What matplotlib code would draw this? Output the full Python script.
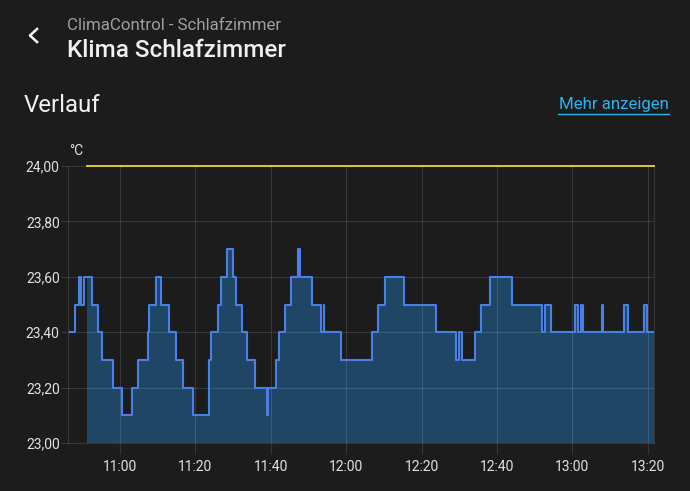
import pandas as pd
import matplotlib.pyplot as plt
import matplotlib.dates as mdates
from matplotlib.lines import Line2D

# Temperature readings (step data)
times = ["10:46:44", "10:48:04", "10:49:08", "10:49:40", "10:50:32", "10:52:30",
         "10:54:15", "10:55:19", "10:58:04", "11:00:37", "11:03:16", "11:04:51",
         "11:07:21", "11:07:46", "11:09:28", "11:10:52", "11:12:59", "11:14:51",
         "11:16:43", "11:19:17", "11:23:31", "11:24:08", "11:25:55", "11:26:52",
         "11:28:27", "11:30:03", "11:30:41", "11:32:16", "11:33:45", "11:35:48",
         "11:39:04", "11:39:15", "11:41:22", "11:42:15", "11:43:45", "11:45:16",
         "11:47:20", "11:47:44", "11:50:50", "11:53:13", "11:54:01", "11:54:14",
         "11:58:32", "12:06:45", "12:08:30", "12:10:16", "12:15:19", "12:23:43",
         "12:29:06", "12:29:49", "12:30:37", "12:34:08", "12:35:44", "12:38:07",
         "12:43:52", "12:51:59", "12:52:42", "12:54:13", "13:00:40", "13:01:32",
         "13:02:15", "13:02:55", "13:07:49", "13:08:05", "13:13:44", "13:14:47",
         "13:18:58", "13:19:50", "13:21:37"]
temps = [23.4, 23.5, 23.6, 23.5, 23.6, 23.5,
         23.4, 23.3, 23.2, 23.1, 23.2, 23.3,
         23.4, 23.5, 23.6, 23.5, 23.4, 23.3,
         23.2, 23.1, 23.3, 23.4, 23.5, 23.6,
         23.7, 23.6, 23.5, 23.4, 23.3, 23.2,
         23.1, 23.2, 23.3, 23.4, 23.5, 23.6,
         23.7, 23.6, 23.5, 23.4, 23.5, 23.4,
         23.3, 23.4, 23.5, 23.6, 23.5, 23.4,
         23.3, 23.4, 23.3, 23.4, 23.5, 23.6,
         23.5, 23.4, 23.5, 23.4, 23.5, 23.4,
         23.5, 23.4, 23.5, 23.4, 23.5, 23.4,
         23.5, 23.4, 23.4]

setpoint = 24.0
fill_start = "10:51:10"
x_start, x_end = "10:46:13", "13:21:37"
y_ticks = [23.0, 23.2, 23.4, 23.6, 23.8, 24.0]

day = "2024-01-01 "
t = pd.to_datetime([day + s for s in times])
s = pd.Series(temps, index=t)

# area only starts a bit after the line
fs = pd.Timestamp(day + fill_start)
fill = pd.concat([pd.Series([s.asof(fs)], index=[fs]), s[s.index > fs]])

BG = "#1c1c1c"
GRID = "#ffffff"
LINE = "#4a7fe6"
AREA = "#1f4665"
TXT = "#e1e1e1"

plt.rcParams['font.family'] = ['Roboto', 'DejaVu Sans']

fig = plt.figure(figsize=(6.9, 4.91), dpi=100, facecolor=BG)
W, H = 690, 491
ax = fig.add_axes([68 / W, (H - 443) / H, 586 / W, 277 / H])
ax.set_facecolor(BG)

ax.fill_between(fill.index, fill.values, 23.0, step='post', color=AREA, lw=0, zorder=1)
ax.plot(s.index, s.values, drawstyle='steps-post', color=LINE, lw=1.5, zorder=3)
ax.plot([fs, s.index[-1]], [setpoint, setpoint], color="#e8d82c", lw=1.3,
        zorder=4, clip_on=False)

ax.set_xlim(pd.Timestamp(day + x_start), pd.Timestamp(day + x_end))
ax.set_ylim(23.0, 24.0)
ax.set_yticks(y_ticks)
ax.yaxis.set_major_formatter(plt.FuncFormatter(lambda v, p: f"{v:.2f}".replace(".", ",")))
ax.xaxis.set_major_locator(mdates.MinuteLocator(byminute=[0, 20, 40]))
ax.xaxis.set_major_formatter(mdates.DateFormatter('%H:%M'))

ax.grid(True, color=GRID, alpha=0.12, lw=0.8, zorder=2)
ax.tick_params(axis='x', colors=(1, 1, 1, 0.12), length=8, width=0.8, pad=4,
               labelcolor=TXT, labelsize=10)
ax.tick_params(axis='y', colors=(1, 1, 1, 0.12), length=5, width=0.8, pad=1,
               labelcolor=TXT, labelsize=10)
for side in ['left', 'bottom', 'right']:
    ax.spines[side].set_color((1, 1, 1, 0.12))
    ax.spines[side].set_linewidth(0.8)
ax.spines['top'].set_visible(False)

# header
fig.add_artist(Line2D([37 / W, 30 / W, 37 / W], [1 - 29 / H, 1 - 35.5 / H, 1 - 42 / H],
                      color="white", lw=1.8))
fig.text(67 / W, 1 - 25 / H, "ClimaControl - Schlafzimmer", color="#9e9e9e",
         fontsize=12.2, va='center')
fig.text(67 / W, 1 - 50 / H, "Klima Schlafzimmer", color="#f0f0f0",
         fontsize=17.5, fontweight='medium', va='center')
fig.text(24 / W, 1 - 105 / H, "Verlauf", color="#f0f0f0", fontsize=17.3,
         va='center')
fig.text(669 / W, 1 - 105 / H, "Mehr anzeigen", color="#2bb0f0", fontsize=12.2,
         va='center', ha='right')
fig.add_artist(Line2D([558 / W, 669 / W], [1 - 113.5 / H, 1 - 113.5 / H],
                      color="#2bb0f0", lw=1))
fig.text(69 / W, 1 - 151 / H, "°C", color=TXT, fontsize=10, va='center')

plt.savefig("out.png", dpi=100, facecolor=BG)
